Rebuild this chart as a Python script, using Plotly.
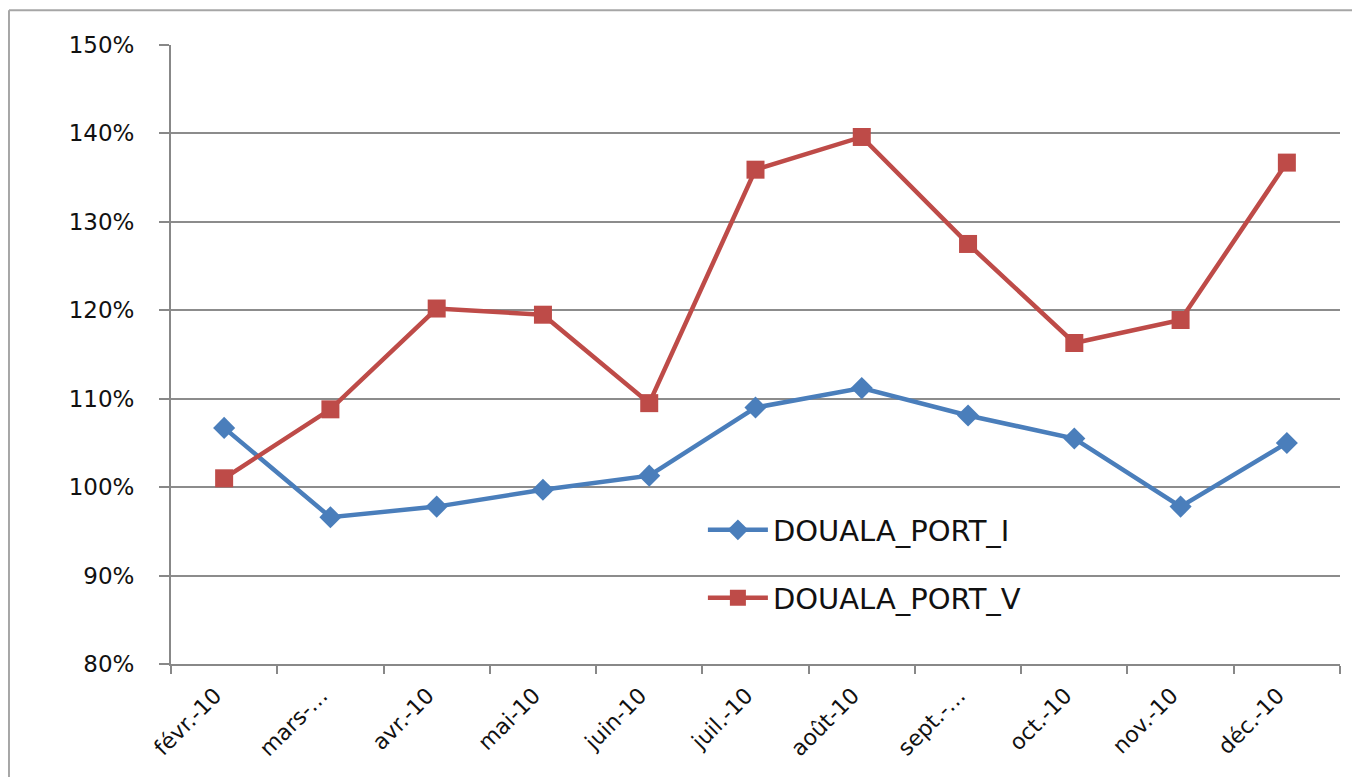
import plotly.graph_objects as go

categories = ["févr.-10", "mars-…", "avr.-10", "mai-10", "juin-10", "juil.-10",
              "août-10", "sept.-…", "oct.-10", "nov.-10", "déc.-10"]
port_i = [106.7, 96.6, 97.8, 99.7, 101.3, 109.0, 111.2, 108.1, 105.5, 97.8, 105.0]
port_v = [101.0, 108.8, 120.2, 119.5, 109.5, 135.9, 139.6, 127.5, 116.3, 118.9, 136.7]
y_ticks = [80, 90, 100, 110, 120, 130, 140, 150]
y_labels = [f"{v}%" for v in y_ticks]

FONT = "DejaVu Sans, sans-serif"

fig = go.Figure()
fig.add_trace(go.Scatter(
    x=categories, y=port_i, name="DOUALA_PORT_I", mode="lines+markers",
    line=dict(color="#4A7EBB", width=4.5),
    marker=dict(symbol="diamond", size=17, color="#4A7EBB"),
    legend="legend",
))
fig.add_trace(go.Scatter(
    x=categories, y=port_v, name="DOUALA_PORT_V", mode="lines+markers",
    line=dict(color="#BE4B48", width=4.5),
    marker=dict(symbol="square", size=18, color="#BE4B48"),
    legend="legend2",
))

leg_common = dict(xanchor="left", yanchor="middle",
                  bgcolor="rgba(255,255,255,0)", itemwidth=60,
                  font=dict(size=29, family=FONT, color="#111111"))

fig.update_layout(
    width=1352, height=769,
    margin=dict(l=163, r=20, t=37, b=113),
    plot_bgcolor="white", paper_bgcolor="white",
    font=dict(family=FONT, color="#222222"),
    showlegend=True,
    legend=dict(x=0.455, y=0.2165, **leg_common),
    legend2=dict(x=0.455, y=0.1066, **leg_common),
    shapes=[
        dict(type="line", xref="paper", yref="paper", x0=-0.1386, x1=-0.1386,
             y0=-0.3, y1=1.056, line=dict(color="#A6A6A6", width=2)),
        dict(type="line", xref="paper", yref="paper", x0=-0.1386, x1=1.02,
             y0=1.056, y1=1.056, line=dict(color="#A6A6A6", width=2)),
    ],
)
fig.update_xaxes(
    type="category", range=[-0.5, 10.5], tickson="boundaries",
    ticks="outside", ticklen=8, tickcolor="#888888", tickwidth=2,
    showline=True, linecolor="#888888", linewidth=2,
    showgrid=False, tickangle=-45, tickfont=dict(size=22, color="#111111"),
    ticklabelstandoff=8, ticklabelshift=-9,
)
fig.update_yaxes(
    range=[80, 150], tickvals=y_ticks, ticktext=y_labels,
    ticks="outside", ticklen=10, tickcolor="#888888", tickwidth=2,
    showline=True, linecolor="#888888", linewidth=2,
    showgrid=True, gridcolor="#8C8C8C", gridwidth=1.5,
    tickfont=dict(size=23, color="#111111"), zeroline=False,
    ticklabelstandoff=20,
)

fig.write_html("out.html")
